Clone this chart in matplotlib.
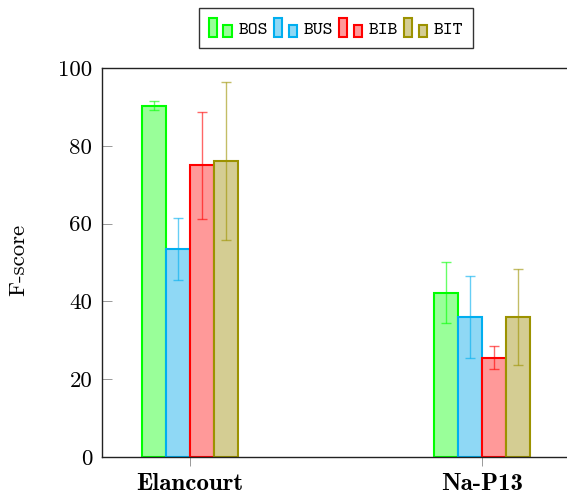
import matplotlib
matplotlib.use("Agg")
import matplotlib.pyplot as plt
from matplotlib.patches import Rectangle
from matplotlib.legend_handler import HandlerBase
import numpy as np

# Data
sites = ["Elancourt", "Na-P13"]
methods = ["BOS", "BUS", "BIB", "BIT"]
fscore = {
    "BOS": [90.3, 42.2],
    "BUS": [53.5, 36.0],
    "BIB": [75.0, 25.5],
    "BIT": [76.2, 36.0],
}
fscore_err = {
    "BOS": [1.2, 7.8],
    "BUS": [7.9, 10.5],
    "BIB": [13.8, 3.0],
    "BIT": [20.3, 12.4],
}
yticks = [0, 20, 40, 60, 80, 100]

edge_colors = {"BOS": "#00FF00", "BUS": "#00AEEF", "BIB": "#FF0000", "BIT": "#9C9200"}
face_colors = {"BOS": "#99FF99", "BUS": "#8FD8F5", "BIB": "#FF9999", "BIT": "#D4CD93"}

RM = "cmr10"
BF = "cmb10"
TT = "cmtt10"
plt.rcParams["mathtext.fontset"] = "cm"
plt.rcParams["axes.formatter.use_mathtext"] = True

W, H = 567, 498
fig = plt.figure(figsize=(W / 100, H / 100), dpi=100)

# axis box spans x 102..570 px (right edge runs past the figure), y 68..457 px
ax = fig.add_axes([102 / W, (H - 457) / H, (570 - 102) / W, (457 - 68) / H])

x = np.arange(len(sites))
bar_w = 0.082
n = len(methods)
legend_handles = []
for i, m in enumerate(methods):
    xs = x + (i - (n - 1) / 2) * bar_w
    ax.bar(xs, fscore[m], width=bar_w, color=face_colors[m],
           edgecolor=edge_colors[m], linewidth=1.5, zorder=2)
    legend_handles.append(Rectangle((0, 0), 1, 1, facecolor=face_colors[m],
                                    edgecolor=edge_colors[m], linewidth=1.5))
for i, m in enumerate(methods):
    xs = x + (i - (n - 1) / 2) * bar_w
    ax.errorbar(xs, fscore[m], yerr=fscore_err[m], fmt="none",
                ecolor=edge_colors[m], alpha=0.6, elinewidth=1.0,
                capsize=3.6, capthick=1.0, zorder=3)

ax.set_xlim(-0.3, 1.3)
ax.set_ylim(0, 100)
ax.set_yticks(yticks)
ax.set_yticklabels([str(v) for v in yticks], fontfamily=RM, fontsize=16.5)
ax.set_xticks(x)
ax.set_xticklabels(sites, fontfamily=BF, fontsize=18)

ax.tick_params(axis="y", direction="in", length=7, width=0.7, color="#999999", pad=7)
ax.tick_params(axis="x", direction="out", length=6.5, width=0.7, color="#999999", pad=5)
for s in ax.spines.values():
    s.set_linewidth(1.0)
    s.set_color("#222222")

fig.text(18 / W, 1 - 260 / H, "F-score", rotation=90, ha="center", va="center",
         fontfamily=RM, fontsize=16.5)


class TwoBarHandler(HandlerBase):
    def create_artists(self, legend, orig_handle, xdescent, ydescent,
                       width, height, fontsize, trans):
        fc = orig_handle.get_facecolor()
        ec = orig_handle.get_edgecolor()
        bw = width * 0.36
        x0 = -xdescent
        y0 = -ydescent
        r1 = Rectangle((x0, y0), bw, height, facecolor=fc, edgecolor=ec,
                       linewidth=1.5, transform=trans)
        r2 = Rectangle((x0 + width - bw, y0), bw, height * 0.65, facecolor=fc,
                       edgecolor=ec, linewidth=1.5, transform=trans)
        return [r1, r2]


leg = fig.legend(legend_handles, methods, loc="center",
                 bbox_to_anchor=(336 / W, 1 - 28 / H),
                 ncol=4, frameon=True, fancybox=False, framealpha=1,
                 edgecolor="#333333", prop={"family": TT, "size": 13.5},
                 handler_map={Rectangle: TwoBarHandler()},
                 handlelength=1.2, handleheight=1.15, handletextpad=0.35,
                 columnspacing=0.35, borderpad=0.55, borderaxespad=0)
leg.get_frame().set_linewidth(1.0)

fig.savefig("out.png", dpi=100)
